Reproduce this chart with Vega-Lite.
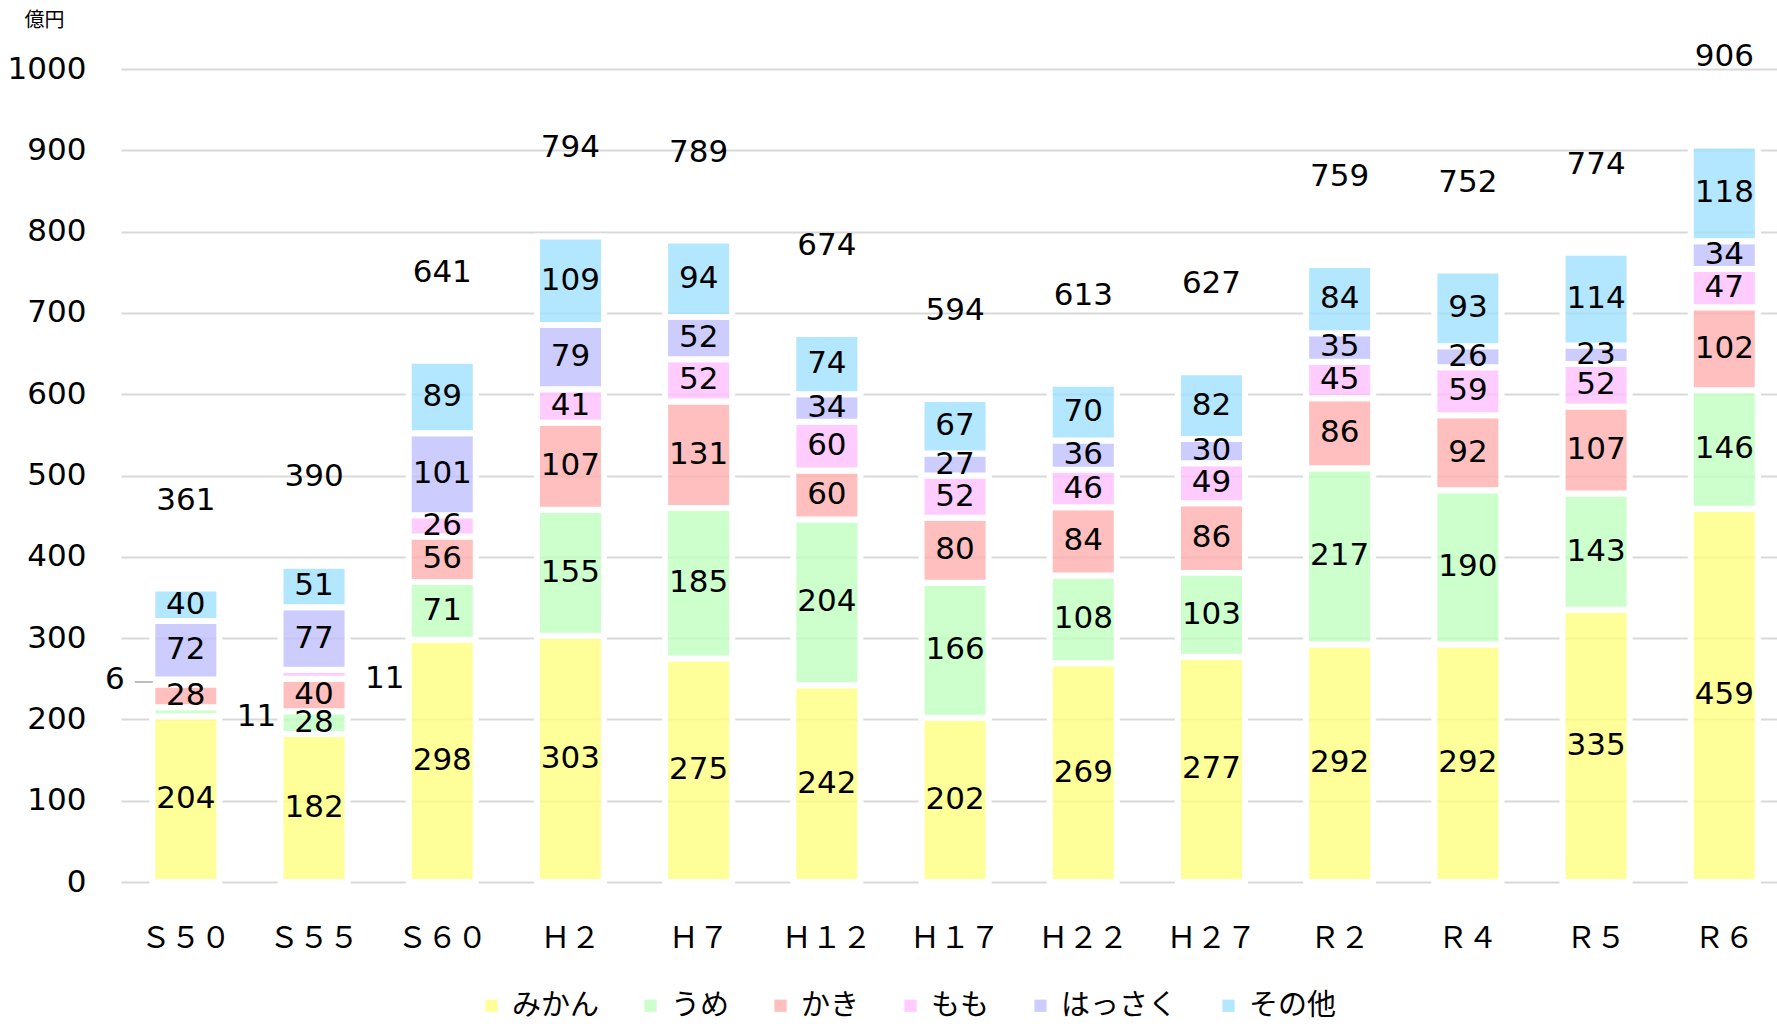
{
  "$schema": "https://vega.github.io/schema/vega-lite/v6.json",
  "width": 1656,
  "height": 813,
  "autosize": {"type": "none"},
  "padding": {"left": 121, "top": 69, "right": 0, "bottom": 146},
  "background": "white",
  "config": {
    "view": {"stroke": null},
    "font": "DejaVu Sans",
    "text": {"font": "DejaVu Sans", "fontSize": 31, "color": "black"}
  },
  "datasets": {
    "segs": [
      {"p": "Ｓ５０", "item": "みかん", "v": 204}, {"p": "Ｓ５０", "item": "うめ", "v": 11}, {"p": "Ｓ５０", "item": "かき", "v": 28}, {"p": "Ｓ５０", "item": "もも", "v": 6}, {"p": "Ｓ５０", "item": "はっさく", "v": 72}, {"p": "Ｓ５０", "item": "その他", "v": 40},
      {"p": "Ｓ５５", "item": "みかん", "v": 182}, {"p": "Ｓ５５", "item": "うめ", "v": 28}, {"p": "Ｓ５５", "item": "かき", "v": 40}, {"p": "Ｓ５５", "item": "もも", "v": 11}, {"p": "Ｓ５５", "item": "はっさく", "v": 77}, {"p": "Ｓ５５", "item": "その他", "v": 51},
      {"p": "Ｓ６０", "item": "みかん", "v": 298}, {"p": "Ｓ６０", "item": "うめ", "v": 71}, {"p": "Ｓ６０", "item": "かき", "v": 56}, {"p": "Ｓ６０", "item": "もも", "v": 26}, {"p": "Ｓ６０", "item": "はっさく", "v": 101}, {"p": "Ｓ６０", "item": "その他", "v": 89},
      {"p": "Ｈ２", "item": "みかん", "v": 303}, {"p": "Ｈ２", "item": "うめ", "v": 155}, {"p": "Ｈ２", "item": "かき", "v": 107}, {"p": "Ｈ２", "item": "もも", "v": 41}, {"p": "Ｈ２", "item": "はっさく", "v": 79}, {"p": "Ｈ２", "item": "その他", "v": 109},
      {"p": "Ｈ７", "item": "みかん", "v": 275}, {"p": "Ｈ７", "item": "うめ", "v": 185}, {"p": "Ｈ７", "item": "かき", "v": 131}, {"p": "Ｈ７", "item": "もも", "v": 52}, {"p": "Ｈ７", "item": "はっさく", "v": 52}, {"p": "Ｈ７", "item": "その他", "v": 94},
      {"p": "Ｈ１２", "item": "みかん", "v": 242}, {"p": "Ｈ１２", "item": "うめ", "v": 204}, {"p": "Ｈ１２", "item": "かき", "v": 60}, {"p": "Ｈ１２", "item": "もも", "v": 60}, {"p": "Ｈ１２", "item": "はっさく", "v": 34}, {"p": "Ｈ１２", "item": "その他", "v": 74},
      {"p": "Ｈ１７", "item": "みかん", "v": 202}, {"p": "Ｈ１７", "item": "うめ", "v": 166}, {"p": "Ｈ１７", "item": "かき", "v": 80}, {"p": "Ｈ１７", "item": "もも", "v": 52}, {"p": "Ｈ１７", "item": "はっさく", "v": 27}, {"p": "Ｈ１７", "item": "その他", "v": 67},
      {"p": "Ｈ２２", "item": "みかん", "v": 269}, {"p": "Ｈ２２", "item": "うめ", "v": 108}, {"p": "Ｈ２２", "item": "かき", "v": 84}, {"p": "Ｈ２２", "item": "もも", "v": 46}, {"p": "Ｈ２２", "item": "はっさく", "v": 36}, {"p": "Ｈ２２", "item": "その他", "v": 70},
      {"p": "Ｈ２７", "item": "みかん", "v": 277}, {"p": "Ｈ２７", "item": "うめ", "v": 103}, {"p": "Ｈ２７", "item": "かき", "v": 86}, {"p": "Ｈ２７", "item": "もも", "v": 49}, {"p": "Ｈ２７", "item": "はっさく", "v": 30}, {"p": "Ｈ２７", "item": "その他", "v": 82},
      {"p": "Ｒ２", "item": "みかん", "v": 292}, {"p": "Ｒ２", "item": "うめ", "v": 217}, {"p": "Ｒ２", "item": "かき", "v": 86}, {"p": "Ｒ２", "item": "もも", "v": 45}, {"p": "Ｒ２", "item": "はっさく", "v": 35}, {"p": "Ｒ２", "item": "その他", "v": 84},
      {"p": "Ｒ４", "item": "みかん", "v": 292}, {"p": "Ｒ４", "item": "うめ", "v": 190}, {"p": "Ｒ４", "item": "かき", "v": 92}, {"p": "Ｒ４", "item": "もも", "v": 59}, {"p": "Ｒ４", "item": "はっさく", "v": 26}, {"p": "Ｒ４", "item": "その他", "v": 93},
      {"p": "Ｒ５", "item": "みかん", "v": 335}, {"p": "Ｒ５", "item": "うめ", "v": 143}, {"p": "Ｒ５", "item": "かき", "v": 107}, {"p": "Ｒ５", "item": "もも", "v": 52}, {"p": "Ｒ５", "item": "はっさく", "v": 23}, {"p": "Ｒ５", "item": "その他", "v": 114},
      {"p": "Ｒ６", "item": "みかん", "v": 459}, {"p": "Ｒ６", "item": "うめ", "v": 146}, {"p": "Ｒ６", "item": "かき", "v": 102}, {"p": "Ｒ６", "item": "もも", "v": 47}, {"p": "Ｒ６", "item": "はっさく", "v": 34}, {"p": "Ｒ６", "item": "その他", "v": 118}
    ],
    "totals": [
      {"p": "Ｓ５０", "t": 361}, {"p": "Ｓ５５", "t": 390}, {"p": "Ｓ６０", "t": 641}, {"p": "Ｈ２", "t": 794}, {"p": "Ｈ７", "t": 789}, {"p": "Ｈ１２", "t": 674}, {"p": "Ｈ１７", "t": 594}, {"p": "Ｈ２２", "t": 613}, {"p": "Ｈ２７", "t": 627}, {"p": "Ｒ２", "t": 759}, {"p": "Ｒ４", "t": 752}, {"p": "Ｒ５", "t": 774}, {"p": "Ｒ６", "t": 906}
    ]
  },
  "encoding": {
    "x": {
      "field": "p", "type": "nominal",
      "sort": ["Ｓ５０", "Ｓ５５", "Ｓ６０", "Ｈ２", "Ｈ７", "Ｈ１２", "Ｈ１７", "Ｈ２２", "Ｈ２７", "Ｒ２", "Ｒ４", "Ｒ５", "Ｒ６"],
      "scale": {"paddingInner": 0.477, "paddingOuter": 0.197, "align": 0.62},
      "title": null,
      "axis": {"domain": false, "ticks": false, "labelAngle": 0, "labelFont": "Noto Sans CJK JP", "labelFontSize": 30, "labelColor": "black", "labelPadding": 41}
    }
  },
  "layer": [
    {
      "data": {"name": "segs"},
      "transform": [
        {"calculate": "indexof(['みかん','うめ','かき','もも','はっさく','その他'], datum.item)", "as": "ord"},
        {"stack": "v", "groupby": ["p"], "sort": [{"field": "ord", "order": "ascending"}], "as": ["y0", "y1"]}
      ],
      "mark": {"type": "bar", "stroke": "white", "strokeWidth": 6, "fillOpacity": 0.8},
      "encoding": {
        "y": {
          "field": "y0", "type": "quantitative",
          "scale": {"domain": [0, 1000], "nice": false},
          "axis": {
            "values": [0, 100, 200, 300, 400, 500, 600, 700, 800, 900, 1000], "format": "d",
            "domain": false, "ticks": false, "gridColor": "#d9d9d9", "gridWidth": 2,
            "labelFontSize": 31, "labelColor": "black", "labelPadding": 35,
            "title": "億円", "titleAngle": 0, "titleFont": "Noto Sans CJK JP", "titleFontSize": 20, "titleFontWeight": "normal",
            "titleAlign": "left", "titleBaseline": "middle", "titleX": -97, "titleY": -49, "titleColor": "black"
          }
        },
        "y2": {"field": "y1"},
        "color": {
          "field": "item", "type": "nominal",
          "scale": {"domain": ["みかん", "うめ", "かき", "もも", "はっさく", "その他"], "range": ["#FFFF80", "#BFFFBF", "#FFAFAF", "#FFBFFF", "#BFBFFF", "#A0E0FF"]},
          "legend": {
            "title": null, "orient": "none", "legendX": 356, "legendY": 922, "direction": "horizontal",
            "symbolType": "square", "symbolSize": 150, "symbolStrokeWidth": 0, "symbolOpacity": 0.8,
            "labelFont": "Noto Sans CJK JP", "labelFontSize": 29, "labelColor": "black",
            "labelOffset": 6, "columnPadding": 36
          }
        }
      }
    },
    {
      "data": {"name": "segs"},
      "transform": [
        {"calculate": "indexof(['みかん','うめ','かき','もも','はっさく','その他'], datum.item)", "as": "ord"},
        {"stack": "v", "groupby": ["p"], "sort": [{"field": "ord", "order": "ascending"}], "as": ["y0", "y1"]},
        {"calculate": "(datum.y0 + datum.y1) / 2", "as": "mid"},
        {"filter": "datum.v >= 15"}
      ],
      "mark": {"type": "text", "baseline": "middle", "align": "center"},
      "encoding": {
        "y": {"field": "mid", "type": "quantitative"},
        "text": {"field": "v", "type": "quantitative"}
      }
    },
    {
      "data": {"name": "segs"},
      "transform": [
        {"calculate": "indexof(['みかん','うめ','かき','もも','はっさく','その他'], datum.item)", "as": "ord"},
        {"stack": "v", "groupby": ["p"], "sort": [{"field": "ord", "order": "ascending"}], "as": ["y0", "y1"]},
        {"calculate": "(datum.y0 + datum.y1) / 2", "as": "mid"},
        {"filter": "datum.v < 15 && !(datum.p == 'Ｓ５０' && datum.item == 'もも')"}
      ],
      "mark": {"type": "text", "baseline": "middle", "align": "left", "dx": 51, "dy": 5},
      "encoding": {
        "y": {"field": "mid", "type": "quantitative"},
        "text": {"field": "v", "type": "quantitative"}
      }
    },
    {
      "data": {"name": "segs"},
      "transform": [
        {"calculate": "indexof(['みかん','うめ','かき','もも','はっさく','その他'], datum.item)", "as": "ord"},
        {"stack": "v", "groupby": ["p"], "sort": [{"field": "ord", "order": "ascending"}], "as": ["y0", "y1"]},
        {"calculate": "(datum.y0 + datum.y1) / 2", "as": "mid"},
        {"filter": "datum.p == 'Ｓ５０' && datum.item == 'もも'"}
      ],
      "layer": [
        {
          "mark": {"type": "text", "baseline": "middle", "align": "right", "dx": -61, "dy": -2},
          "encoding": {
            "y": {"field": "mid", "type": "quantitative"},
            "text": {"field": "v", "type": "quantitative"}
          }
        },
        {
          "mark": {"type": "tick", "orient": "horizontal", "size": 18, "thickness": 1.5, "xOffset": -42, "color": "#a6a6a6", "opacity": 1},
          "encoding": {
            "y": {"field": "mid", "type": "quantitative"}
          }
        }
      ]
    },
    {
      "data": {"name": "totals"},
      "mark": {"type": "text", "baseline": "middle", "align": "center", "dy": -88},
      "encoding": {
        "y": {"field": "t", "type": "quantitative"},
        "text": {"field": "t", "type": "quantitative"}
      }
    }
  ]
}
